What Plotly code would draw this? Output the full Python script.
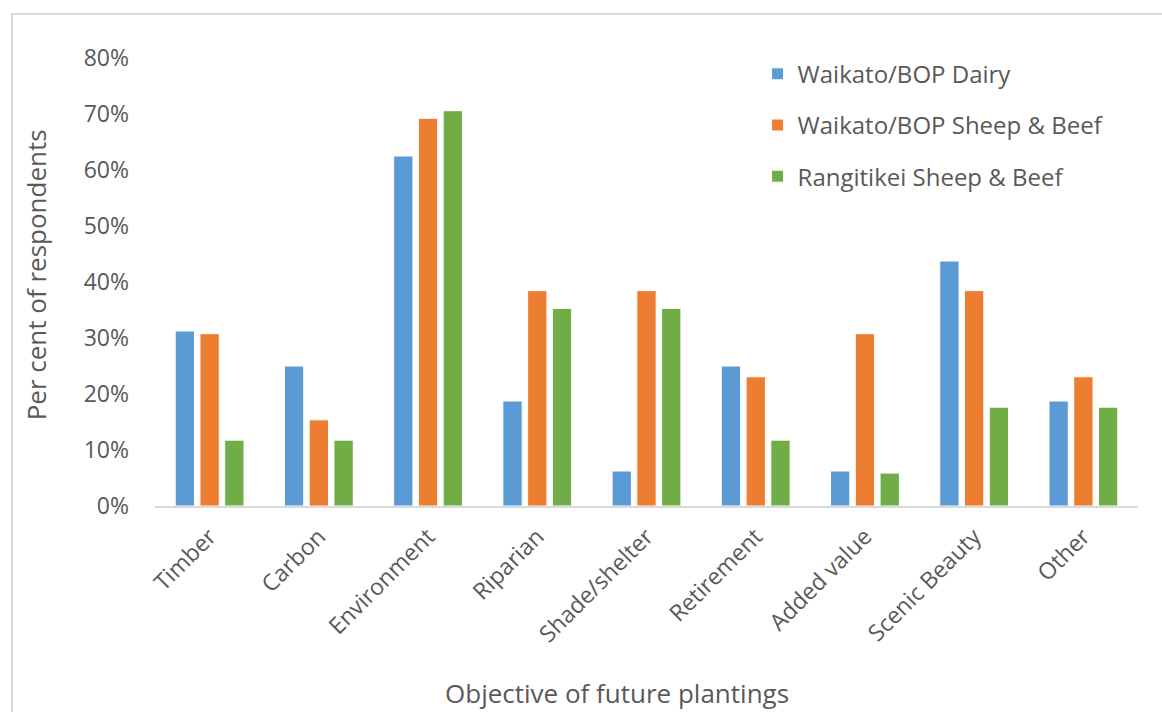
import plotly.graph_objects as go

# Objectives of future plantings and share of respondents in each farm group
categories = ["Timber", "Carbon", "Environment", "Riparian", "Shade/shelter",
              "Retirement", "Added value", "Scenic Beauty", "Other"]
waikato_dairy = [0.3125, 0.25, 0.625, 0.1875, 0.0625, 0.25, 0.0625, 0.4375, 0.1875]
waikato_sheep_beef = [0.3077, 0.1538, 0.6923, 0.3846, 0.3846, 0.2308, 0.3077, 0.3846, 0.2308]
rangitikei_sheep_beef = [0.1176, 0.1176, 0.7059, 0.3529, 0.3529, 0.1176, 0.0588, 0.1765, 0.1765]
y_ticks = [0, 0.1, 0.2, 0.3, 0.4, 0.5, 0.6, 0.7, 0.8]

series = [
    ("Waikato/BOP Dairy", waikato_dairy, "#5B9BD5"),
    ("Waikato/BOP Sheep & Beef", waikato_sheep_beef, "#ED7D31"),
    ("Rangitikei Sheep & Beef", rangitikei_sheep_beef, "#70AD47"),
]

FONT = "Open Sans"
GREY = "#595959"

fig = go.Figure()
for i, (name, vals, color) in enumerate(series):
    fig.add_trace(go.Bar(
        x=categories, y=vals, name=name, legendgroup=f"g{i}",
        marker=dict(color=color, line=dict(color="white", width=1)),
    ))

fig.update_layout(
    width=1162, height=712,
    margin=dict(l=155, r=24, t=58, b=206),
    paper_bgcolor="white", plot_bgcolor="white",
    barmode="group", bargap=0.32, bargroupgap=0.22,
    font=dict(family=FONT, color=GREY, size=23),
    showlegend=True,
    legend=dict(
        x=0.613, y=1.014, xanchor="left", yanchor="top",
        font=dict(family=FONT, size=24, color=GREY),
        tracegroupgap=17, itemwidth=30, bgcolor="rgba(0,0,0,0)",
    ),
    xaxis=dict(
        showgrid=False, showline=True, linecolor="#D9D9D9", linewidth=2,
        ticks="", tickangle=-45, ticklabelstandoff=6,
        tickfont=dict(family=FONT, size=23, color=GREY),
        fixedrange=True,
    ),
    yaxis=dict(
        range=[0, 0.8], tickvals=y_ticks, tickformat=".0%",
        showgrid=False, showline=False, zeroline=False, ticks="",
        ticklabelstandoff=25,
        tickfont=dict(family=FONT, size=23, color=GREY),
        fixedrange=True,
    ),
    annotations=[
        dict(text="Per cent of respondents", xref="paper", yref="paper",
             x=-0.121, y=0.515, xanchor="center", yanchor="middle",
             textangle=-90, showarrow=False,
             font=dict(family=FONT, size=26, color=GREY)),
        dict(text="Objective of future plantings", xref="paper", yref="paper",
             x=0.47, y=-0.418, xanchor="center", yanchor="middle",
             showarrow=False, font=dict(family=FONT, size=26, color=GREY)),
    ],
    shapes=[
        dict(type="rect", xref="paper", yref="paper",
             x0=-0.1455, x1=1.05, y0=-0.5, y1=1.098,
             line=dict(color="#D9D9D9", width=2), fillcolor="rgba(0,0,0,0)",
             layer="below"),
    ],
)

fig.write_html("out.html")
